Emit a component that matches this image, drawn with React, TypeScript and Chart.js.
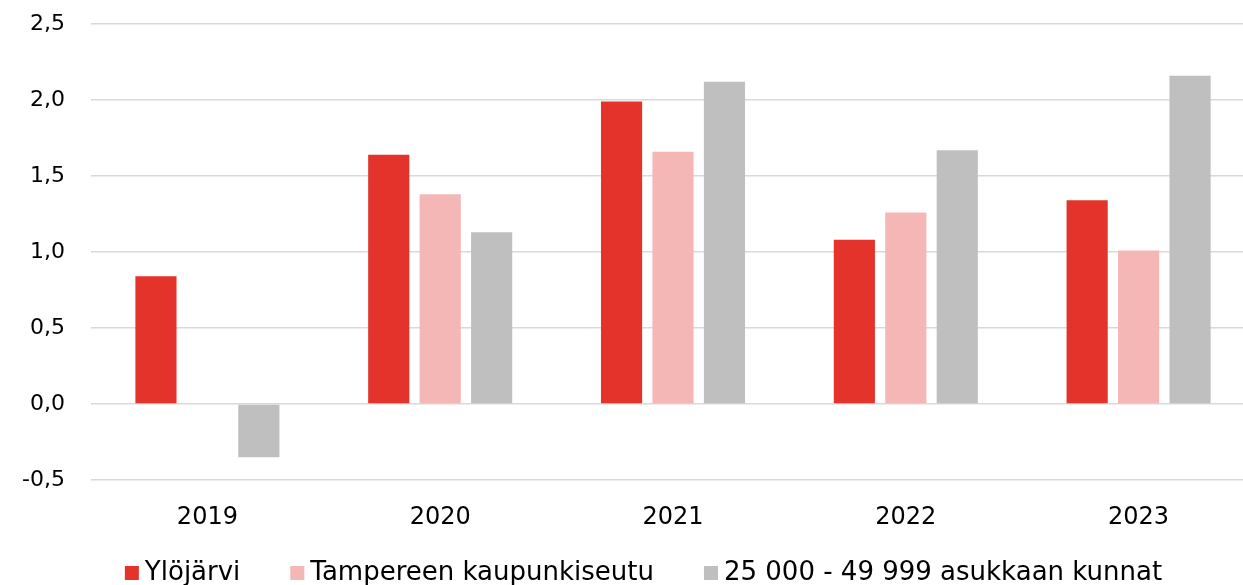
import React, { useEffect, useRef } from "react";
import { Chart, registerables } from "chart.js";

Chart.register(...registerables);

const categories = ["2019", "2020", "2021", "2022", "2023"];
const seriesNames = ["Ylöjärvi", "Tampereen kaupunkiseutu", "25 000 - 49 999 asukkaan kunnat"];
const ylojarvi = [0.84, 1.64, 1.99, 1.08, 1.34];
const tampereen = [null, 1.38, 1.66, 1.26, 1.01];
const kunnat = [-0.35, 1.13, 2.12, 1.67, 2.16];
const seriesColors = ["#e4332a", "#f5b7b5", "#bfbfbf"];
const yTicks = [-0.5, 0, 0.5, 1.0, 1.5, 2.0, 2.5];

const FONT = "'DejaVu Sans', sans-serif";

const bottomLegend = {
  id: "bottomLegend",
  afterDraw(chart: any) {
    const ctx = chart.ctx;
    const items = chart.data.datasets.map((d: any) => ({ text: d.label, color: d.backgroundColor }));
    ctx.save();
    ctx.font = `26px ${FONT}`;
    const box = 14, gapText = 6, gapItem = 50;
    const widths = items.map((it: any) => box + gapText + ctx.measureText(it.text).width);
    const total = widths.reduce((a: number, b: number) => a + b, 0) + gapItem * (items.length - 1);
    let x = 643.5 - total / 2;
    const yc = 573;
    ctx.textBaseline = "middle";
    ctx.textAlign = "left";
    items.forEach((it: any, i: number) => {
      ctx.fillStyle = it.color;
      ctx.fillRect(x, yc - box / 2, box, box);
      ctx.fillStyle = "#000";
      ctx.fillText(it.text, x + box + gapText, yc);
      x += widths[i] + gapItem;
    });
    ctx.restore();
  },
};

export default function App() {
  const ref = useRef<HTMLCanvasElement>(null);
  useEffect(() => {
    if (!ref.current) return;
    const chart = new Chart(ref.current, {
      type: "bar",
      data: {
        labels: categories,
        datasets: [ylojarvi, tampereen, kunnat].map((d, i) => ({
          label: seriesNames[i],
          data: d,
          backgroundColor: seriesColors[i],
          borderWidth: 0,
          categoryPercentage: 0.663,
          barPercentage: 0.8,
        })),
      },
      options: {
        animation: false,
        responsive: false,
        layout: { padding: { left: 0, right: 1, top: 24, bottom: 0 } },
        plugins: {
          tooltip: { enabled: false },
          legend: { display: false },
        },
        scales: {
          x: {
            grid: { display: false, drawTicks: false },
            border: { display: false },
            afterFit: (s: any) => {
              s.height = 105;
              s.paddingLeft = 0;
              s.paddingRight = 0;
            },
            ticks: { color: "#000", font: { family: FONT, size: 24 }, padding: 23 },
          },
          y: {
            min: -0.5,
            max: 2.5,
            afterBuildTicks: (s: any) => {
              s.ticks = yTicks.map((v) => ({ value: v }));
            },
            afterFit: (s: any) => {
              s.width = 91;
              s.paddingTop = 0;
              s.paddingBottom = 0;
            },
            grid: { color: "#d9d9d9", lineWidth: 1.5, drawTicks: false },
            border: { display: false },
            ticks: {
              color: "#000",
              padding: 26,
              font: { family: FONT, size: 22 },
              callback: (v: any) => Number(v).toFixed(1).replace(".", ","),
            },
          },
        },
      },
      plugins: [bottomLegend],
    });
    return () => chart.destroy();
  }, []);
  return (
    <div style={{ position: "fixed", left: 0, top: 0, width: 1243, height: 585, overflow: "hidden", background: "#fff" }}>
      <canvas ref={ref} width={1256} height={585} />
    </div>
  );
}
